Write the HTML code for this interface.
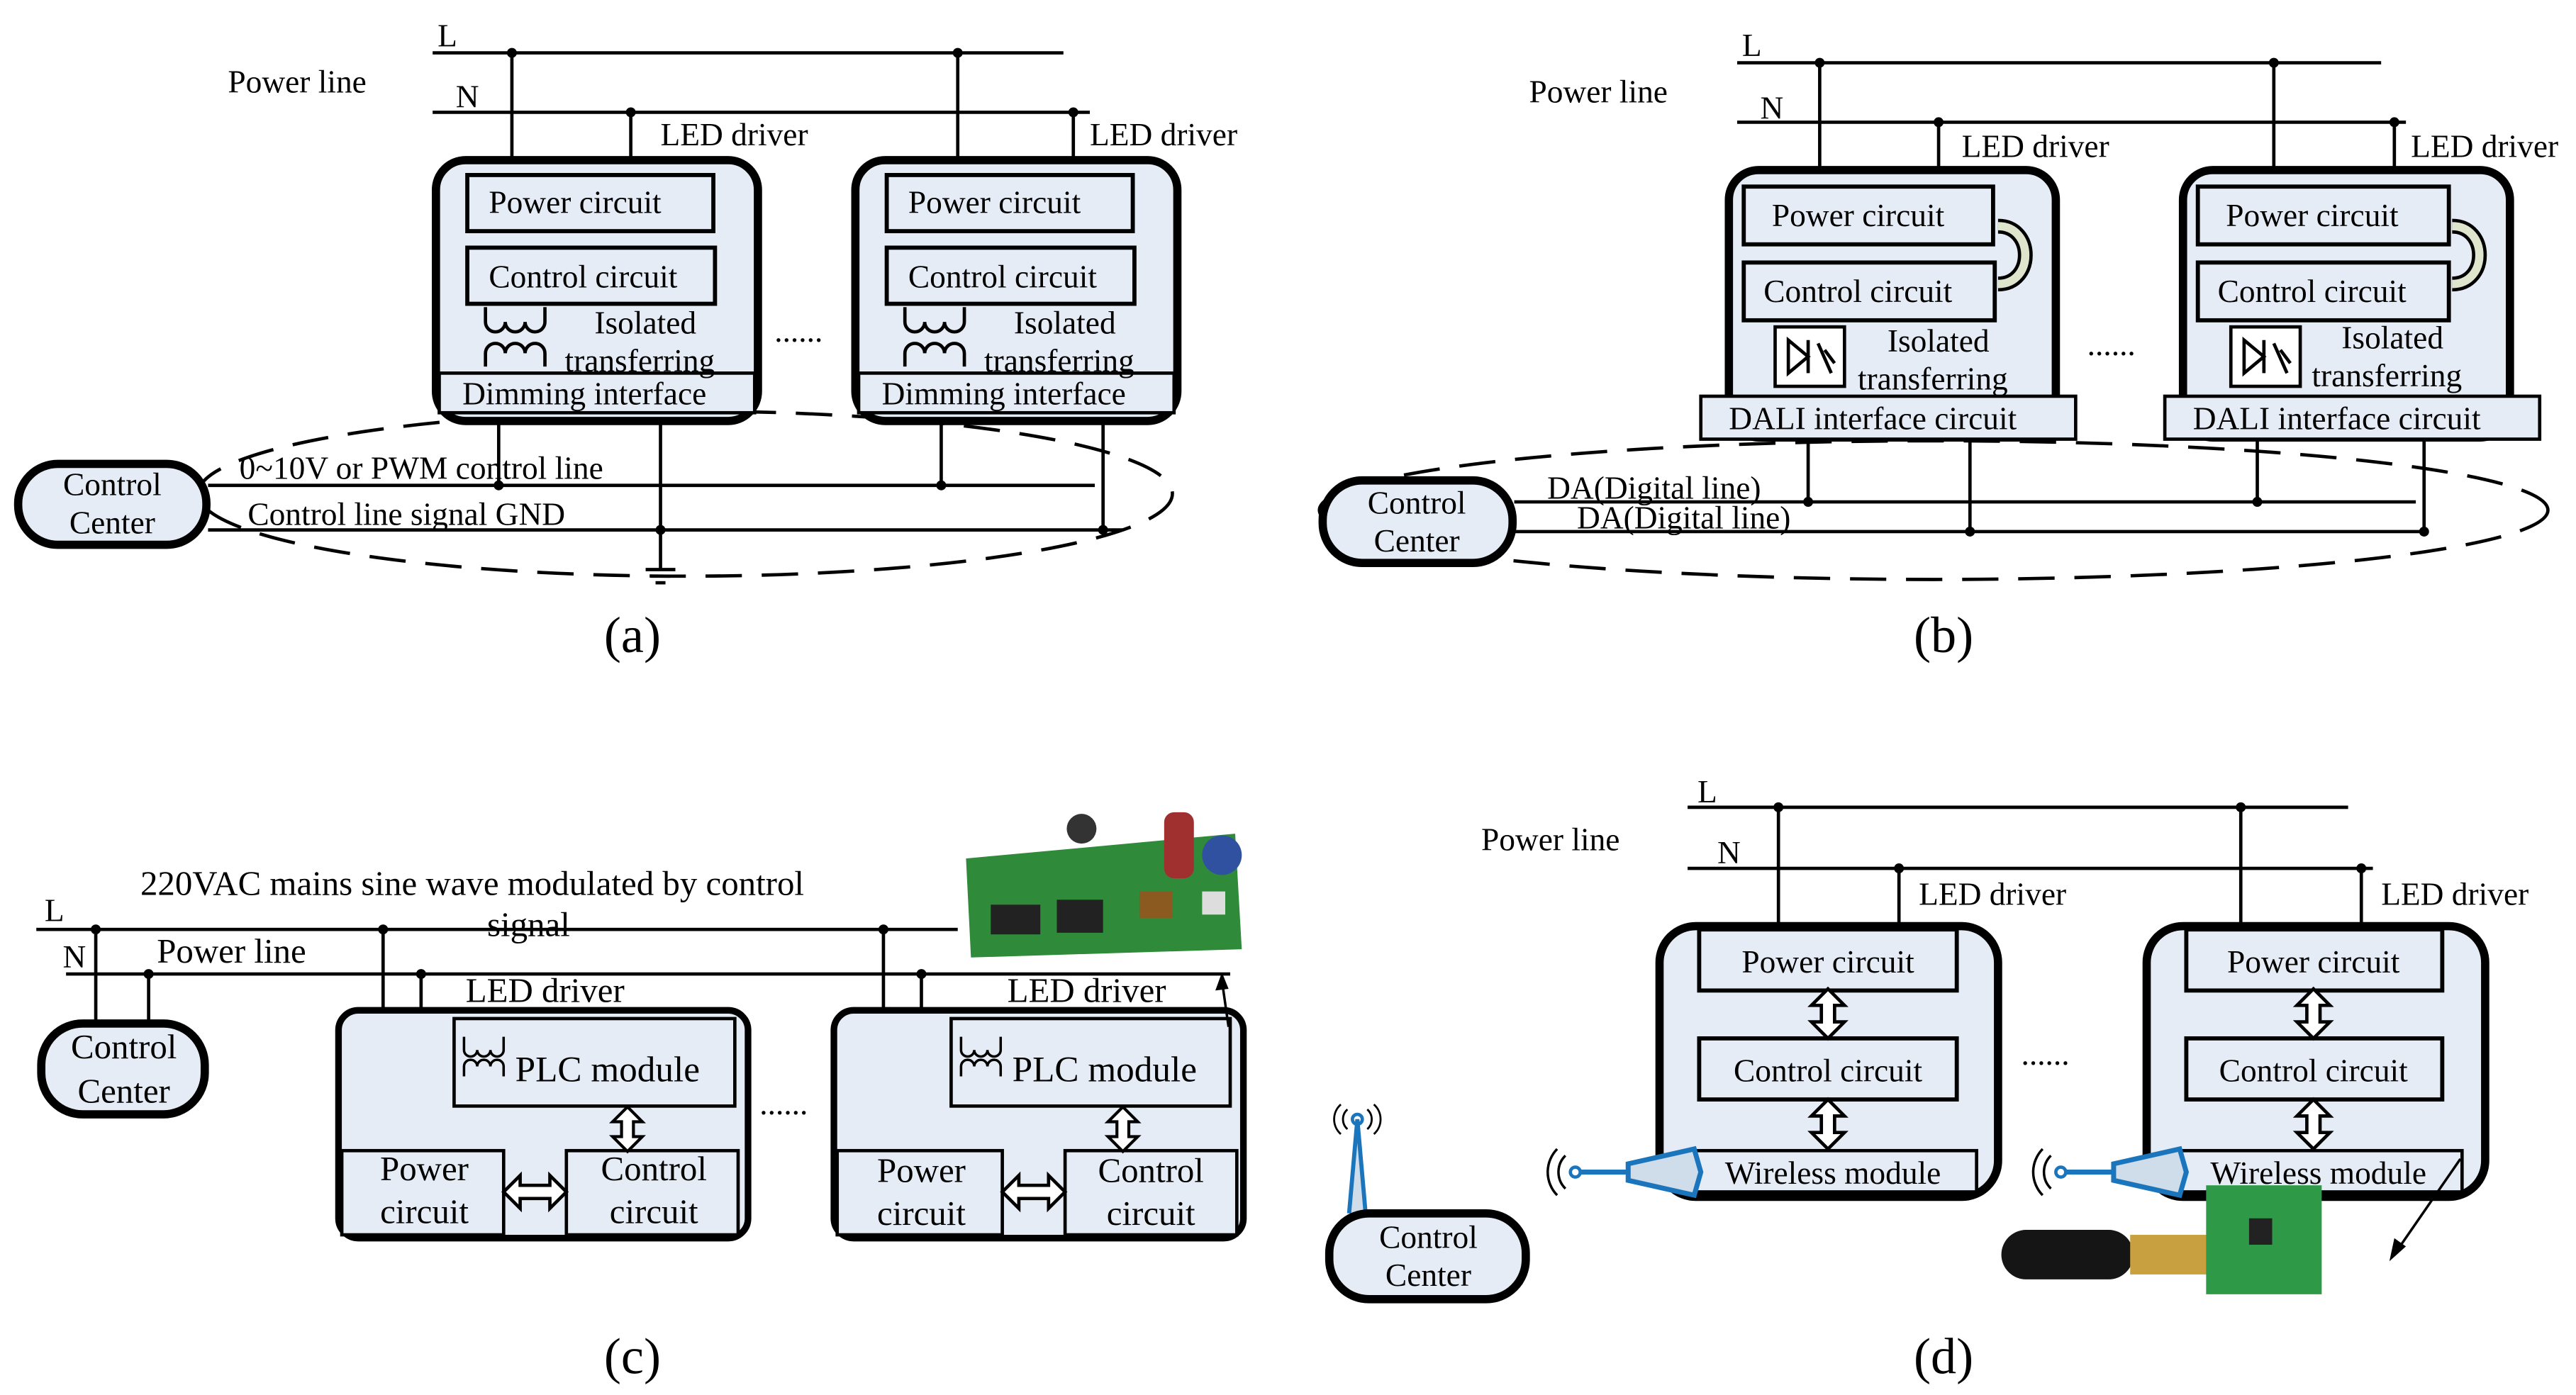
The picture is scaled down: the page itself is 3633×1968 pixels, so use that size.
<!DOCTYPE html>
<html><head><meta charset="utf-8"><style>
html,body{margin:0;padding:0;background:#fff}
svg{display:block}
text{font-family:"Liberation Serif",serif;font-size:19.5px;fill:#000}
</style></head><body>
<svg width="3633" height="1968" viewBox="0 0 1560 845" xmlns="http://www.w3.org/2000/svg">
<defs>
<g id="va"><path d="M0,-15 L10,-5 L4,-5 L4,5 L10,5 L0,15 L-10,5 L-4,5 L-4,-5 L-10,-5 Z" fill="#fff" stroke="#000" stroke-width="2"/></g>
<g id="ha"><path d="M-19,0 L-9,-10 L-9,-4 L9,-4 L9,-10 L19,0 L9,10 L9,4 L-9,4 L-9,10 Z" fill="#fff" stroke="#000" stroke-width="2"/></g>
<g id="coilA" fill="none" stroke="#000" stroke-width="2">
<path d="M0,0 L0,9 a6,6 0 0 0 12,0 a6,6 0 0 0 12,0 a6,6 0 0 0 12,0 L36,0"/>
<path d="M0,36 L0,28 a6,6 0 0 1 12,0 a6,6 0 0 1 12,0 a6,6 0 0 1 12,0 L36,36"/>
</g>
<g id="opto"><rect x="0" y="0" width="42" height="36" fill="#fff" stroke="#000" stroke-width="2"/><path d="M8,8 L20,18 L8,28 Z M20,8 L20,28 M26,10 L34,28 M30,14 L36,22" fill="none" stroke="#000" stroke-width="2"/></g>
<g id="bend"><path d="M0,-15 C22,-15 22,20 0,20" fill="none" stroke="#000" stroke-width="9"/><path d="M0,-15 C22,-15 22,20 0,20" fill="none" stroke="#dfe4cc" stroke-width="5"/></g>
<g id="ant"><path d="M-10,-10 a14,14 0 0 0 0,20 M-15,-14 a20,20 0 0 0 0,28" fill="none" stroke="#000" stroke-width="1.5"/><circle cx="-4" cy="0" r="3" fill="none" stroke="#1b75bc" stroke-width="2"/><path d="M-1,0 L28,0" stroke="#1b75bc" stroke-width="3"/><path d="M28,-5 L68,-14 L72,0 L68,14 L28,5 Z" fill="#cfdcea" stroke="#1b75bc" stroke-width="3"/></g>
</defs>

<!-- ===== (a) ===== -->
<ellipse cx="415" cy="299" rx="295" ry="50" fill="none" stroke="#000" stroke-width="2" stroke-dasharray="22,12"/>
<g stroke="#000" stroke-width="2" fill="none">
<line x1="262" y1="32" x2="644" y2="32"/><line x1="262" y1="68" x2="660" y2="68"/>
<line x1="310" y1="32" x2="310" y2="95"/><line x1="382" y1="68" x2="382" y2="95"/>
<line x1="580" y1="32" x2="580" y2="95"/><line x1="650" y1="68" x2="650" y2="95"/>
</g>
<g fill="#000"><circle cx="310" cy="32" r="3"/><circle cx="382" cy="68" r="3"/><circle cx="580" cy="32" r="3"/><circle cx="650" cy="68" r="3"/></g>
<text x="265" y="28">L</text><text x="276" y="65">N</text><text x="138" y="56">Power line</text>
<text x="400" y="88">LED driver</text><text x="660" y="88">LED driver</text>
<g stroke="#000" fill="#e5ecf6">
<rect x="264" y="97" width="195" height="158" rx="18" stroke-width="5"/>
<rect x="518" y="97" width="195" height="158" rx="18" stroke-width="5"/>
<rect x="283" y="106" width="149" height="34" stroke-width="2.5"/><rect x="283" y="150" width="150" height="34" stroke-width="2.5"/>
<rect x="266" y="226" width="191" height="24" stroke-width="2"/>
<rect x="537" y="106" width="149" height="34" stroke-width="2.5"/><rect x="537" y="150" width="150" height="34" stroke-width="2.5"/>
<rect x="520" y="226" width="191" height="24" stroke-width="2"/>
</g>
<use href="#coilA" x="294" y="186"/><use href="#coilA" x="548" y="186"/>
<text x="296" y="129">Power circuit</text><text x="296" y="174">Control circuit</text>
<text x="360" y="202">Isolated</text><text x="342" y="225">transferring</text><text x="280" y="245">Dimming interface</text>
<text x="550" y="129">Power circuit</text><text x="550" y="174">Control circuit</text>
<text x="614" y="202">Isolated</text><text x="596" y="225">transferring</text><text x="534" y="245">Dimming interface</text>
<text x="469" y="207">......</text>
<g stroke="#000" stroke-width="2" fill="none">
<line x1="126" y1="294" x2="663" y2="294"/><line x1="126" y1="321" x2="680" y2="321"/>
<line x1="302" y1="255" x2="302" y2="294"/><line x1="400" y1="255" x2="400" y2="345"/>
<line x1="570" y1="255" x2="570" y2="294"/><line x1="668" y1="255" x2="668" y2="321"/>
<line x1="391" y1="345" x2="409" y2="345"/><line x1="394" y1="349" x2="406" y2="349"/><line x1="397" y1="353" x2="403" y2="353"/>
</g>
<g fill="#000"><circle cx="302" cy="294" r="3"/><circle cx="400" cy="321" r="3"/><circle cx="570" cy="294" r="3"/><circle cx="668" cy="321" r="3"/></g>
<rect x="11" y="281" width="114" height="49" rx="24" fill="#e5ecf6" stroke="#000" stroke-width="5"/>
<text x="68" y="300" text-anchor="middle">Control</text><text x="68" y="323" text-anchor="middle">Center</text>
<text x="145" y="290">0~10V or PWM control line</text><text x="150" y="318">Control line signal   GND</text>
<text x="383" y="395" text-anchor="middle" style="font-size:31px">(a)</text>

<!-- ===== (b) ===== -->
<ellipse cx="1171" cy="309" rx="372" ry="42" fill="none" stroke="#000" stroke-width="2" stroke-dasharray="22,12"/>
<g stroke="#000" stroke-width="2" fill="none">
<line x1="1052" y1="38" x2="1442" y2="38"/><line x1="1052" y1="74" x2="1457" y2="74"/>
<line x1="1102" y1="38" x2="1102" y2="102"/><line x1="1174" y1="74" x2="1174" y2="102"/>
<line x1="1377" y1="38" x2="1377" y2="102"/><line x1="1450" y1="74" x2="1450" y2="102"/>
</g>
<g fill="#000"><circle cx="1102" cy="38" r="3"/><circle cx="1174" cy="74" r="3"/><circle cx="1377" cy="38" r="3"/><circle cx="1450" cy="74" r="3"/></g>
<text x="1055" y="34">L</text><text x="1066" y="72">N</text><text x="926" y="62">Power line</text>
<text x="1188" y="95">LED driver</text><text x="1460" y="95">LED driver</text>
<g stroke="#000" fill="#e5ecf6">
<rect x="1047" y="103" width="198" height="162" rx="18" stroke-width="5"/>
<rect x="1322" y="103" width="198" height="162" rx="18" stroke-width="5"/>
<rect x="1056" y="113" width="151" height="35" stroke-width="2.5"/><rect x="1056" y="159" width="152" height="35" stroke-width="2.5"/>
<rect x="1030" y="240" width="227" height="26" stroke-width="2"/>
<rect x="1331" y="113" width="152" height="35" stroke-width="2.5"/><rect x="1331" y="159" width="152" height="35" stroke-width="2.5"/>
<rect x="1311" y="240" width="227" height="26" stroke-width="2"/>
</g>
<use href="#bend" x="1210" y="152"/><use href="#bend" x="1485" y="152"/>
<use href="#opto" x="1075" y="198"/><use href="#opto" x="1351" y="198"/>
<text x="1073" y="137">Power circuit</text><text x="1068" y="183">Control circuit</text>
<text x="1143" y="213">Isolated</text><text x="1125" y="236">transferring</text><text x="1047" y="260">DALI interface circuit</text>
<text x="1348" y="137">Power circuit</text><text x="1343" y="183">Control circuit</text>
<text x="1418" y="211">Isolated</text><text x="1400" y="234">transferring</text><text x="1328" y="260">DALI interface circuit</text>
<text x="1264" y="215">......</text>
<g stroke="#000" stroke-width="2" fill="none">
<line x1="917" y1="304" x2="1463" y2="304"/><line x1="917" y1="322" x2="1470" y2="322"/>
<line x1="1095" y1="266" x2="1095" y2="304"/><line x1="1193" y1="266" x2="1193" y2="322"/>
<line x1="1367" y1="266" x2="1367" y2="304"/><line x1="1468" y1="266" x2="1468" y2="322"/>
</g>
<g fill="#000"><circle cx="1095" cy="304" r="3"/><circle cx="1193" cy="322" r="3"/><circle cx="1367" cy="304" r="3"/><circle cx="1468" cy="322" r="3"/></g>
<rect x="801" y="291" width="115" height="50" rx="24" fill="#e5ecf6" stroke="#000" stroke-width="5"/>
<text x="858" y="311" text-anchor="middle">Control</text><text x="858" y="334" text-anchor="middle">Center</text>
<text x="937" y="302">DA(Digital line)</text><text x="955" y="320">DA(Digital line)</text>
<text x="1177" y="395" text-anchor="middle" style="font-size:31px">(b)</text>

<!-- ===== (c) ===== -->
<text x="85" y="542" style="font-size:21px">220VAC mains sine wave modulated by control</text>
<text x="295" y="567" style="font-size:21px">signal</text>
<g stroke="#000" stroke-width="2" fill="none">
<line x1="22" y1="563" x2="580" y2="563"/><line x1="40" y1="590" x2="745" y2="590"/>
<line x1="58" y1="563" x2="58" y2="622"/><line x1="90" y1="590" x2="90" y2="622"/>
<line x1="232" y1="563" x2="232" y2="697"/><line x1="255" y1="590" x2="255" y2="697"/>
<line x1="232" y1="637" x2="275" y2="637"/><line x1="255" y1="657" x2="275" y2="657"/>
<line x1="535" y1="563" x2="535" y2="697"/><line x1="558" y1="590" x2="558" y2="697"/>
<line x1="535" y1="637" x2="576" y2="637"/><line x1="558" y1="657" x2="576" y2="657"/>
</g>
<g fill="#000"><circle cx="58" cy="563" r="3"/><circle cx="90" cy="590" r="3"/><circle cx="232" cy="563" r="3"/><circle cx="255" cy="590" r="3"/><circle cx="535" cy="563" r="3"/><circle cx="558" cy="590" r="3"/></g>
<text x="27" y="558">L</text><text x="38" y="586">N</text><text x="95" y="583" style="font-size:21px">Power line</text>
<text x="282" y="607" style="font-size:21px">LED driver</text><text x="610" y="607" style="font-size:21px">LED driver</text>
<g stroke="#000" fill="#e5ecf6">
<rect x="205" y="612" width="248" height="138" rx="12" stroke-width="4"/>
<rect x="505" y="612" width="248" height="138" rx="12" stroke-width="4"/>
<rect x="275" y="617" width="170" height="53" stroke-width="2"/><rect x="207" y="697" width="98" height="51" stroke-width="2"/><rect x="343" y="697" width="104" height="51" stroke-width="2"/>
<rect x="576" y="617" width="169" height="53" stroke-width="2"/><rect x="507" y="697" width="100" height="51" stroke-width="2"/><rect x="645" y="697" width="104" height="51" stroke-width="2"/>
</g>
<g fill="none" stroke="#000" stroke-width="1.5">
<path d="M281,628 L281,636 a4,4 0 0 0 8,0 a4,4 0 0 0 8,0 a4,4 0 0 0 8,0 L305,628 M281,652 L281,646 a4,4 0 0 1 8,0 a4,4 0 0 1 8,0 a4,4 0 0 1 8,0 L305,652"/>
<path d="M582,628 L582,636 a4,4 0 0 0 8,0 a4,4 0 0 0 8,0 a4,4 0 0 0 8,0 L606,628 M582,652 L582,646 a4,4 0 0 1 8,0 a4,4 0 0 1 8,0 a4,4 0 0 1 8,0 L606,652"/>
</g>
<use href="#va" transform="translate(380 684) scale(0.9)"/>
<use href="#va" transform="translate(680 684) scale(0.9)"/>
<use href="#ha" x="324" y="722"/><use href="#ha" x="626" y="722"/>
<text x="312" y="655" style="font-size:22px">PLC module</text><text x="613" y="655" style="font-size:22px">PLC module</text>
<text x="257" y="715" text-anchor="middle" style="font-size:21px">Power</text><text x="257" y="741" text-anchor="middle" style="font-size:21px">circuit</text>
<text x="396" y="715" text-anchor="middle" style="font-size:21px">Control</text><text x="396" y="741" text-anchor="middle" style="font-size:21px">circuit</text>
<text x="558" y="716" text-anchor="middle" style="font-size:21px">Power</text><text x="558" y="742" text-anchor="middle" style="font-size:21px">circuit</text>
<text x="697" y="716" text-anchor="middle" style="font-size:21px">Control</text><text x="697" y="742" text-anchor="middle" style="font-size:21px">circuit</text>
<text x="460" y="675">......</text>
<rect x="25" y="620" width="99" height="55" rx="25" fill="#e5ecf6" stroke="#000" stroke-width="5"/>
<text x="75" y="641" text-anchor="middle" style="font-size:21px">Control</text><text x="75" y="668" text-anchor="middle" style="font-size:21px">Center</text>
<g>
<polygon points="585,520 748,505 752,575 588,580" fill="#2f8a3a"/>
<rect x="600" y="548" width="30" height="18" fill="#222"/><rect x="640" y="545" width="28" height="20" fill="#222"/>
<rect x="705" y="492" width="18" height="40" rx="6" fill="#a03030"/><circle cx="740" cy="518" r="12" fill="#3050a0"/>
<circle cx="655" cy="502" r="9" fill="#333"/><rect x="690" y="540" width="20" height="16" fill="#8a5a20"/>
<rect x="728" y="540" width="14" height="14" fill="#ddd"/>
</g>
<line x1="744" y1="622" x2="740" y2="594" stroke="#000" stroke-width="1.5"/><path d="M740,589 L736,600 L744,599 Z" fill="#000"/>
<path d="M817,735 L822,678 L827,735" stroke="#1b75bc" stroke-width="2.5" fill="#cfdcea"/>
<circle cx="822" cy="678" r="3" fill="none" stroke="#1b75bc" stroke-width="2"/>
<path d="M816,672 a8,8 0 0 0 0,12 M828,672 a8,8 0 0 1 0,12 M812,669 a12,12 0 0 0 0,18 M832,669 a12,12 0 0 1 0,18" fill="none" stroke="#000" stroke-width="1.2"/>
<rect x="805" y="735" width="119" height="52" rx="24" fill="#e5ecf6" stroke="#000" stroke-width="5"/>
<text x="865" y="756" text-anchor="middle">Control</text><text x="865" y="779" text-anchor="middle">Center</text>
<text x="383" y="832" text-anchor="middle" style="font-size:31px">(c)</text>

<!-- ===== (d) ===== -->
<g stroke="#000" stroke-width="2" fill="none">
<line x1="1022" y1="489" x2="1422" y2="489"/><line x1="1022" y1="526" x2="1437" y2="526"/>
<line x1="1077" y1="489" x2="1077" y2="560"/><line x1="1150" y1="526" x2="1150" y2="560"/>
<line x1="1357" y1="489" x2="1357" y2="560"/><line x1="1430" y1="526" x2="1430" y2="560"/>
</g>
<g fill="#000"><circle cx="1077" cy="489" r="3"/><circle cx="1150" cy="526" r="3"/><circle cx="1357" cy="489" r="3"/><circle cx="1430" cy="526" r="3"/></g>
<text x="1028" y="486">L</text><text x="1040" y="523">N</text><text x="897" y="515">Power line</text>
<text x="1162" y="548">LED driver</text><text x="1442" y="548">LED driver</text>
<g stroke="#000" fill="#e5ecf6">
<rect x="1005" y="561" width="205" height="164" rx="22" stroke-width="5"/>
<rect x="1300" y="561" width="205" height="164" rx="22" stroke-width="5"/>
<rect x="1029" y="563" width="156" height="37" stroke-width="2.5"/><rect x="1029" y="629" width="156" height="37" stroke-width="2.5"/><rect x="1024" y="697" width="173" height="25" stroke-width="2"/>
<rect x="1324" y="563" width="155" height="37" stroke-width="2.5"/><rect x="1324" y="629" width="155" height="37" stroke-width="2.5"/><rect x="1318" y="697" width="173" height="25" stroke-width="2"/>
</g>
<use href="#va" x="1107" y="614"/><use href="#va" x="1107" y="681"/>
<use href="#va" x="1401" y="614"/><use href="#va" x="1401" y="681"/>
<text x="1107" y="589" text-anchor="middle">Power circuit</text><text x="1107" y="655" text-anchor="middle">Control circuit</text><text x="1110" y="717" text-anchor="middle">Wireless module</text>
<text x="1401" y="589" text-anchor="middle">Power circuit</text><text x="1401" y="655" text-anchor="middle">Control circuit</text><text x="1404" y="717" text-anchor="middle">Wireless module</text>
<text x="1224" y="645">......</text>
<use href="#ant" x="958" y="710"/><use href="#ant" x="1252" y="710"/>
<rect x="1212" y="745" width="80" height="30" rx="15" fill="#151515"/>
<rect x="1290" y="748" width="48" height="24" fill="#c9a040"/>
<rect x="1336" y="718" width="70" height="66" fill="#2e9a48"/><rect x="1362" y="738" width="14" height="16" fill="#222"/>
<line x1="1490" y1="702" x2="1452" y2="757" stroke="#000" stroke-width="1.5"/><path d="M1447,764 L1450,750 L1457,755 Z" fill="#000"/>
<text x="1177" y="832" text-anchor="middle" style="font-size:31px">(d)</text>
</svg>
</body></html>
